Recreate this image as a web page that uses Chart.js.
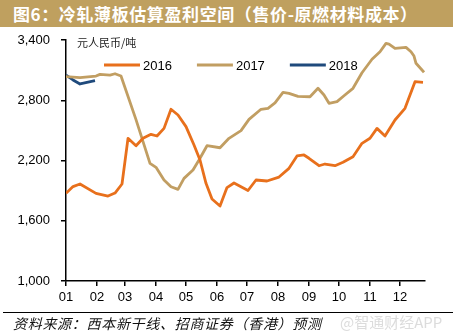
<!DOCTYPE html>
<html>
<head>
<meta charset="utf-8">
<script src="https://cdn.jsdelivr.net/npm/chart.js@4/dist/chart.umd.min.js"></script>
<style>
  html, body { margin: 0; padding: 0; background: #fff; }
  #wrap { position: relative; width: 453px; height: 336px; overflow: hidden; }
  #chartBox { position: absolute; left: 0; top: 0; width: 453px; height: 336px; }
  #title {
    position: absolute; left: 0; top: 0; width: 453px; height: 27px;
    background: #BFA05F; color: #fff; box-sizing: border-box; padding-left: 13px;
    font: bold 17px "Noto Sans CJK SC", sans-serif; line-height: 27px; white-space: nowrap;
    letter-spacing: 0.6px;
  }
  #unit {
    position: absolute; left: 77px; top: 34px; color: #222;
    font: 11px "Noto Sans CJK SC", sans-serif; white-space: nowrap;
  }
  #rule { position: absolute; left: 3px; top: 312px; width: 450px; height: 1px; background: #000; }
  #source {
    position: absolute; left: 13px; top: 313px; color: #111; letter-spacing: 0.7px;
    font: italic 14px "Noto Sans CJK SC", sans-serif; white-space: nowrap;
  }
  #mark {
    position: absolute; left: 340px; top: 311px; color: #dcdcdc;
    font: 15px "Noto Sans CJK SC", sans-serif; white-space: nowrap;
  }
</style>
</head>
<body>
<div id="wrap">
  <div id="chartBox"><canvas id="c" width="453" height="336"></canvas></div>
  <div id="title">图6：冷轧薄板估算盈利空间（售价-原燃材料成本）</div>
  <div id="unit">元人民币/吨</div>
  <div id="rule"></div>
  <div id="source">资料来源：西本新干线、招商证券（香港）预测</div>
  <div id="mark">@智通财经APP</div>
</div>
<script>
// Month axis: day-of-year at which each month starts, and its label
const monthStartDays = [0, 31, 59, 90, 120, 151, 181, 212, 243, 273, 304, 334];
const monthLabels = ['01', '02', '03', '04', '05', '06', '07', '08', '09', '10', '11', '12'];
const yTickValues = [1000, 1600, 2200, 2800, 3400];

// Weekly margin estimates (RMB/tonne), keyed by day of year
const days2016 = [0, 7, 14, 30, 42, 49, 56, 62, 70, 77, 85, 91, 98, 105, 112, 120, 128, 134, 140, 146,
  154, 161, 168, 182, 190, 201, 213, 223, 231, 238, 243, 253, 259, 269, 277, 287, 296, 304, 311, 319,
  329, 339, 349, 357];
const values2016 = [1873, 1940, 1966, 1873, 1846, 1876, 1966, 2421, 2347, 2421, 2461, 2444, 2520, 2710, 2653, 2537, 2354, 2205, 1973, 1816,
  1747, 1930, 1976, 1901, 2006, 1996, 2035, 2122, 2245, 2255, 2222, 2148, 2165, 2148, 2182, 2238, 2371, 2421, 2520, 2444,
  2603, 2720, 2985, 2979];

const days2017 = [0, 14, 30, 34, 44, 49, 55, 70, 84, 90, 98, 105, 112, 118, 127, 133, 141, 154, 163, 175,
  183, 195, 202, 209, 217, 223, 232, 244, 252, 258, 263, 271, 278, 287, 296, 306, 314, 320, 323, 329,
  340, 345, 348, 350, 358];
const values2017 = [3035, 3025, 3041, 3058, 3051, 3064, 3041, 2607, 2172, 2132, 2006, 1939, 1913, 2022, 2105, 2205, 2347, 2327, 2421, 2497,
  2610, 2710, 2720, 2773, 2879, 2869, 2838, 2835, 2919, 2852, 2770, 2786, 2845, 2919, 3074, 3208, 3283, 3367, 3360, 3317,
  3327, 3283, 3240, 3168, 3078];

const days2018 = [0, 7, 14, 29];
const values2018 = [3051, 3002, 2962, 2995];

const seriesLabels = ['2016', '2017', '2018'];
const seriesColors = ['#E8701C', '#C19E62', '#1F4A7C'];

function toPoints(days, values) {
  return days.map((d, i) => ({ x: d, y: values[i] }));
}

// Legend drawn inside the plot area as a single row
const inlineLegend = {
  id: 'inlineLegend',
  afterDraw(chart) {
    const ctx = chart.ctx;
    const area = chart.chartArea;
    const y = area.top + 25;
    let x = area.left + 38;
    ctx.save();
    ctx.font = '13px "Liberation Sans", Arial, sans-serif';
    ctx.textBaseline = 'middle';
    chart.data.datasets.forEach(ds => {
      ctx.strokeStyle = ds.borderColor;
      ctx.lineWidth = 3;
      ctx.beginPath();
      ctx.moveTo(x, y);
      ctx.lineTo(x + 36, y);
      ctx.stroke();
      ctx.fillStyle = '#000';
      ctx.fillText(ds.label, x + 39, y + 1);
      x += 39 + ctx.measureText(ds.label).width + 25;
    });
    ctx.restore();
  }
};

Chart.defaults.font.family = '"Liberation Sans", Arial, sans-serif';

new Chart(document.getElementById('c'), {
  type: 'line',
  data: {
    datasets: [
      { label: seriesLabels[0], data: toPoints(days2016, values2016), borderColor: seriesColors[0] },
      { label: seriesLabels[1], data: toPoints(days2017, values2017), borderColor: seriesColors[1] },
      { label: seriesLabels[2], data: toPoints(days2018, values2018), borderColor: seriesColors[2] }
    ].map(ds => Object.assign(ds, {
      borderWidth: 2.8, pointRadius: 0, tension: 0, fill: false,
      borderJoinStyle: 'round', borderCapStyle: 'butt'
    }))
  },
  options: {
    responsive: false,
    animation: false,
    layout: { padding: { left: 0, right: 28, top: 40, bottom: 31 } },
    plugins: { legend: { display: false }, tooltip: { enabled: false } },
    scales: {
      x: {
        type: 'linear', min: 0, max: 359,
        afterBuildTicks: s => { s.ticks = monthStartDays.map(v => ({ value: v })); },
        afterFit: s => { s.height = 24; },
        ticks: {
          autoSkip: false, maxRotation: 0, padding: 4, color: '#000',
          font: { size: 13 },
          callback: (v, i) => monthLabels[i]
        },
        grid: { drawOnChartArea: false, drawTicks: true, tickLength: 5, color: '#000', lineWidth: 1.5 },
        border: { display: true, color: '#000', width: 1.5 }
      },
      y: {
        min: 1000, max: 3400,
        afterBuildTicks: s => { s.ticks = yTickValues.map(v => ({ value: v })); },
        afterFit: s => { s.width = 66; },
        ticks: {
          padding: 11, color: '#000', font: { size: 13 },
          callback: v => v.toLocaleString('en-US')
        },
        grid: { drawOnChartArea: false, drawTicks: true, tickLength: 5, color: '#000', lineWidth: 1.5 },
        border: { display: true, color: '#000', width: 1.5 }
      }
    }
  },
  plugins: [inlineLegend]
});
</script>
</body>
</html>
